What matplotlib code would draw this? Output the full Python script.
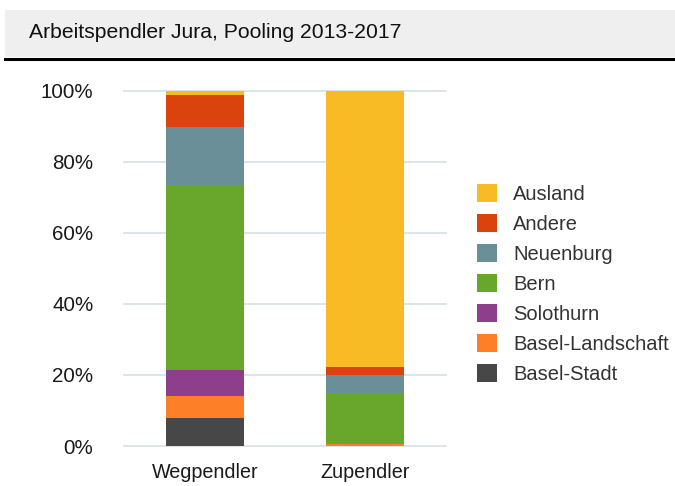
import matplotlib
matplotlib.use("Agg")
import matplotlib.pyplot as plt
from matplotlib.patches import Rectangle, Patch
from matplotlib.lines import Line2D

plt.rcParams['font.family'] = ['Liberation Sans', 'DejaVu Sans']

# data (percent), stacked bottom -> top
groups = ['Wegpendler', 'Zupendler']
series = ['Basel-Stadt', 'Basel-Landschaft', 'Solothurn', 'Bern', 'Neuenburg', 'Andere', 'Ausland']
basel_stadt = [8.0, 0.1]
basel_landschaft = [6.2, 0.5]
solothurn = [7.3, 0.1]
bern = [51.9, 14.1]
neuenburg = [16.3, 5.1]
andere = [9.0, 2.2]
ausland = [1.3, 78.0]
values = [basel_stadt, basel_landschaft, solothurn, bern, neuenburg, andere, ausland]
colors = ['#474747', '#fd7f28', '#8e3f8c', '#68a72b', '#6a8f98', '#da430e', '#f9bb25']

W, H = 675, 486
fig = plt.figure(figsize=(W / 100, H / 100), dpi=100)

# title bar
fig.patches.append(Rectangle((5 / W, 1 - 57 / H), 1 - 5 / W, 47 / H, transform=fig.transFigure,
                             facecolor='#efefef', edgecolor='none', zorder=0))
fig.lines.append(Line2D([5 / W, 1], [1 - 58.8 / H, 1 - 58.8 / H], transform=fig.transFigure,
                        color='black', linewidth=2.2))
fig.text(29 / W, 1 - 38 / H, 'Arbeitspendler Jura, Pooling 2013-2017', fontsize=15.2,
         va='baseline', ha='left', color='#111111')

ax = fig.add_axes([124 / W, 1 - 446 / H, (446 - 124) / W, (446 - 90.7) / H])
x = [0, 1]
bottom = [0, 0]
for name, vals, c in zip(series, values, colors):
    ax.bar(x, vals, width=0.4875, bottom=bottom, color=c, label=name, zorder=2)
    bottom = [b + v for b, v in zip(bottom, vals)]

ax.set_xlim(-0.506, 1.506)
ax.set_ylim(0, 100)
ax.set_yticks(range(0, 101, 20))
ax.set_yticklabels([f'{t}%' for t in range(0, 101, 20)])
ax.set_xticks(x)
ax.set_xticklabels(groups)
ax.yaxis.grid(True, color='#d3e0e6', linewidth=1.2, zorder=0)
for gl in ax.yaxis.get_gridlines():
    gl.set_clip_on(False)
for s in ax.spines.values():
    s.set_visible(False)
ax.tick_params(axis='both', length=0, colors='#1a1a1a')
ax.tick_params(axis='y', pad=22, labelsize=14.8)
ax.tick_params(axis='x', pad=12.5, labelsize=14.2)

handles = [Patch(facecolor=c, edgecolor='none') for c in colors][::-1]
leg = fig.legend(handles, series[::-1], loc='upper left', bbox_to_anchor=(477 / W, 1 - 184 / H),
                 frameon=False, fontsize=14.5, handlelength=1.0, handleheight=1.0,
                 labelspacing=0.5, handletextpad=0.8, borderpad=0, borderaxespad=0)
for t in leg.get_texts():
    t.set_color('#333333')

fig.savefig('out.png', dpi=100)
